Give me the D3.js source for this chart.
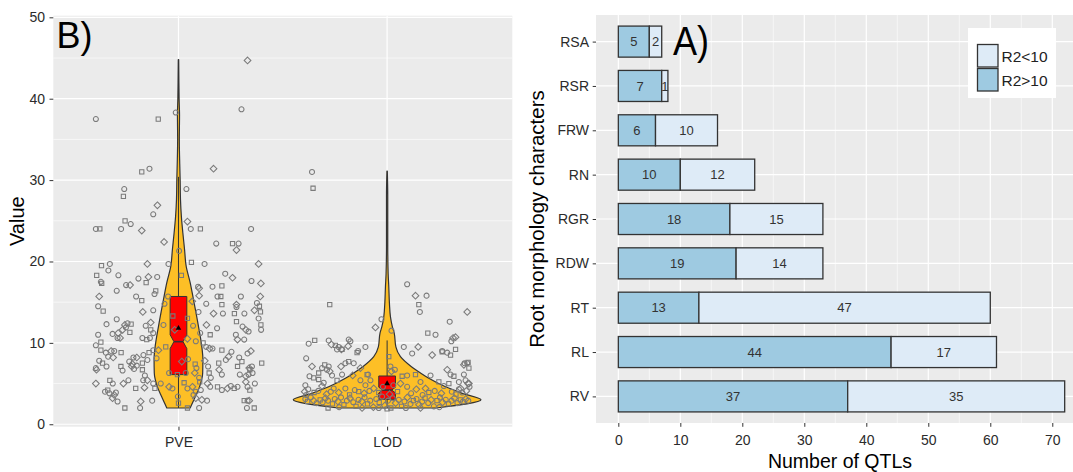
<!DOCTYPE html>
<html><head><meta charset="utf-8">
<script src="https://cdn.jsdelivr.net/npm/d3@7"></script>
<style>html,body{margin:0;padding:0;background:#fff;}svg{display:block;font-family:"Liberation Sans",Arial,sans-serif;}</style>
</head><body>
<script>
// ---------- Panel B data (violin + box + jitter) ----------
const groups = ["PVE", "LOD"];
const valueTicks = [0, 10, 20, 30, 40, 50];
const valueMinor = [5, 15, 25, 35, 45];
// violin profile: [value, half-width in category units]
const pveViolin = [[2.0,0.056],[3.4,0.081],[4.6,0.101],[6.3,0.116],[8.0,0.117],[9.5,0.112],[12,0.096],[15.3,0.072],[17.4,0.056],[19.4,0.037],[21.5,0.029],[23.5,0.021],[25.5,0.014],[27.6,0.0096],[30,0.008],[32,0.006],[35,0.004],[38,0.005],[40,0.003],[42,0.002],[44.8,0.001]];
const lodViolin = [[2.0,0.235],[3.0,0.45],[3.8,0.36],[4.6,0.28],[5.65,0.2],[6.3,0.16],[7.1,0.115],[8.3,0.064],[9.5,0.042],[11.2,0.034],[12.0,0.025],[13.2,0.016],[14.9,0.011],[16.9,0.008],[18.5,0.005],[22,0.003],[28,0.003],[31.1,0.001]];
// box stats: [whiskerLow, q1, median, q3, whiskerHigh, notch]
const pveBox = [2.0, 6.1, 10.15, 15.7, 30.4, 0.85];
const lodBox = [2.0, 3.07, 4.2, 5.93, 10.3, 0.35];
const groupMeans = [11.8, 5.0];
// jitter points: [offset in category units, value]
const pvePoints = [[-0.396,37.5],[-0.097,37.5],[-0.013,38.3],[0.331,44.7],[0.302,38.7],
[-0.176,31.0],[-0.139,31.4],[0.168,31.4],[-0.260,28.9],[-0.264,28.0],[0.038,28.9],
[-0.101,26.9],[-0.121,25.8],[-0.256,25.0],[-0.229,24.6],[0.043,24.9],
[-0.396,24.0],[-0.377,24.0],[-0.275,24.0],[-0.176,23.8],[0.059,24.0],[0.105,24.0],[0.348,24.0],
[-0.069,22.4],[0.181,22.2],[0.259,22.2],[0.288,22.2],[0.278,21.4],[0.003,21.3],
[-0.369,19.5],[-0.329,19.7],[-0.149,19.7],[-0.048,19.7],[0.062,19.9],[0.125,19.7],[0.384,19.7],
[-0.336,18.9],[-0.392,18.3],[-0.288,18.3],[-0.144,18.1],[-0.102,18.1],[0.014,18.3],[0.224,18.5],[0.259,18.0],
[-0.372,17.5],[-0.368,17.3],[-0.251,17.1],[-0.232,17.1],[-0.192,17.9],[-0.155,17.4],[0.094,16.9],[0.099,16.7],[0.163,16.9],[0.208,17.0],[0.350,17.6],[0.395,17.3],
[-0.296,16.4],[-0.109,16.4],[-0.115,16.0],[-0.380,15.7],[-0.203,15.7],[-0.176,15.2],[-0.050,15.7],[0.099,15.8],[0.187,15.7],[0.203,15.7],[0.299,15.7],[0.392,15.7],
[-0.385,14.5],[-0.361,13.9],[-0.067,14.8],[0.066,15.1],[0.133,14.8],[0.208,14.7],[0.278,14.4],[0.278,14.7],[0.376,14.9],[0.388,14.5],
[-0.296,12.9],[-0.171,13.8],[-0.121,14.0],[0.043,13.0],[0.096,13.8],[0.168,13.6],[0.213,13.6],[0.268,13.6],[0.316,13.6],[0.364,14.0],[0.384,13.0],[0.393,13.8],
[-0.345,12.3],[-0.257,12.2],[-0.244,12.4],[-0.227,12.3],[-0.157,12.1],[-0.133,12.5],[-0.072,12.2],[-0.027,13.3],[0.070,12.1],[0.134,12.2],[0.185,11.8],[0.278,12.6],[0.307,12.0],[0.323,11.6],[0.336,11.4],[0.395,12.2],[0.396,11.6],
[-0.268,11.6],[-0.252,11.9],[-0.233,11.3],[-0.316,11.1],[-0.289,11.2],[-0.385,11.0],[-0.133,11.6],[-0.121,11.2],[-0.018,11.6],[0.104,11.2],[0.152,11.0],[0.275,11.0],[0.283,10.4],[0.315,10.4],
[-0.372,10.1],[-0.292,10.6],[-0.280,10.6],[-0.173,10.6],[-0.152,10.4],[-0.137,10.6],[0.043,10.5],[0.083,10.2],[0.118,10.0],[0.133,9.5],[0.149,9.3],[0.163,9.3],[0.208,9.1],[0.254,8.9],[0.347,9.0],
[-0.396,9.7],[-0.372,9.1],[-0.348,8.8],[-0.323,9.0],[-0.308,9.0],[-0.275,8.8],[-0.216,8.2],[-0.200,8.2],[-0.168,8.5],[-0.141,8.8],[-0.121,9.1],[-0.096,9.1],[-0.105,8.1],[-0.061,9.5],
[-0.337,8.3],[-0.313,8.2],[-0.380,7.8],[-0.364,7.5],[-0.236,7.7],[-0.221,7.4],[-0.200,7.2],[-0.173,7.5],[-0.149,7.9],[0.016,7.7],[0.046,8.0],[0.080,7.4],[0.086,6.9],[0.126,7.8],[0.142,7.1],[0.193,7.5],[0.227,7.9],[0.240,8.3],[0.291,8.2],[0.304,7.7],[0.331,8.7],[0.339,6.9],[0.352,7.1],[0.399,7.5],
[-0.396,6.9],[-0.393,6.7],[-0.345,7.1],[-0.276,7.1],[-0.268,6.6],[-0.224,7.1],[-0.213,6.8],[-0.173,6.7],[-0.161,6.0],[-0.149,5.4],[-0.045,6.3],[-0.005,6.1],[0.035,6.3],[0.078,6.3],[0.099,5.7],[0.147,6.3],[0.155,5.7],[0.195,6.7],[0.208,6.1],[0.283,7.1],[0.294,6.1],[0.323,5.9],[0.336,6.1],[0.342,6.7],[0.355,6.3],
[-0.396,5.0],[-0.352,4.0],[-0.339,4.2],[-0.331,3.8],[-0.308,3.6],[-0.300,3.9],[-0.329,5.4],[-0.315,5.0],[-0.264,5.0],[-0.240,5.4],[-0.205,4.4],[-0.169,5.4],[-0.163,4.5],[-0.121,5.0],[-0.113,4.4],[-0.085,5.0],[-0.045,4.6],[-0.029,4.4],[0.027,5.1],[0.043,4.4],[0.067,4.6],[0.083,4.0],[0.102,5.2],[0.107,4.2],[0.139,5.0],[0.152,4.6],[0.187,4.6],[0.208,4.2],[0.235,4.4],[0.251,4.7],[0.267,4.4],[0.283,4.6],[0.323,5.2],[0.331,4.6],[0.342,4.2],[0.366,5.0],
[-0.316,3.2],[-0.292,2.8],[-0.257,2.0],[-0.184,2.0],[-0.181,2.8],[-0.126,2.9],[0.043,2.0],[0.099,2.0],[0.112,3.0],[0.137,2.9],[0.315,2.9],[0.331,2.9],[0.339,2.9],[0.328,2.0],[0.363,2.0],[0.072,3.6],[0.083,3.2],[-0.003,3.4],[0.0,2.6]];
const lodPoints = [[-0.360,31.0],[-0.355,29.0],
[0.096,17.2],[0.136,15.8],[0.189,15.8],[0.152,14.7],[0.157,13.8],[0.384,13.8],[0.300,12.6],[-0.275,14.7],[-0.027,12.9],[-0.056,11.9],[0.021,11.5],[0.195,11.2],[0.232,11.0],[0.316,10.6],[0.308,10.2],[0.328,9.2],[0.264,9.0],[0.328,10.7],
[-0.376,9.9],[-0.347,10.3],[-0.280,10.3],[-0.267,9.8],[-0.240,9.2],[-0.216,9.2],[-0.184,10.4],[-0.187,9.6],[-0.139,9.0],
[-0.248,9.7],[-0.232,9.5],[-0.219,9.2],[-0.176,10.2],[-0.144,8.8],[-0.104,9.5],
[0.216,8.5],[0.288,8.8],[0.304,8.5],[0.120,8.7],[0.149,9.5],[0.080,9.5],[0.264,8.9],
[-0.388,8.1],[-0.360,7.1],[-0.312,6.9],[-0.299,7.3],[-0.280,7.1],[-0.221,7.1],[-0.200,7.5],[-0.184,7.7],[-0.160,7.5],[-0.128,6.9],[-0.091,6.1],[-0.328,6.3],[-0.288,6.7],[-0.275,6.5],
[-0.372,5.9],[-0.352,5.7],[-0.392,4.8],[-0.395,4.0],[-0.388,3.6],
[-0.328,5.5],[-0.304,5.1],[-0.312,4.7],[-0.264,6.0],[-0.240,5.4],[-0.216,6.1],[-0.165,6.0],[-0.128,5.4],[-0.096,6.1],[-0.080,5.4],[-0.064,4.4],[-0.104,4.8],[-0.136,4.0],[-0.256,4.4],[-0.232,3.9],[-0.200,4.4],
[0.008,8.3],[0.016,7.1],[0.021,6.5],[0.037,6.7],[0.072,5.9],[0.096,6.0],[0.064,5.0],[0.096,4.6],[0.136,6.1],[0.160,5.2],[0.184,4.4],[0.208,6.0],[0.248,5.2],[0.272,4.7],[0.288,6.7],[0.304,6.1],[0.320,5.9],[0.344,5.2],[0.368,7.3],[0.384,7.5],[0.392,6.9],[0.368,6.1],[0.392,5.0],[0.371,7.5],[0.388,7.6],[0.376,5.4],[0.388,5.0],[0.395,4.6],[0.296,5.0],[0.344,4.3],[0.352,4.4],
[-0.378,4.3],[-0.350,3.9],[-0.330,4.1],[-0.290,3.7],[-0.270,4.0],[-0.180,3.6],[-0.155,4.2],[-0.110,3.8],[-0.085,4.1],[-0.040,3.9],[-0.020,4.6],[0.012,3.7],[0.030,4.8],[0.050,4.0],[0.115,3.8],[0.140,4.3],[0.170,3.6],[0.200,3.9],[0.228,4.1],[0.260,3.8],[0.310,4.0],[0.330,3.7],[0.360,3.9],[0.380,4.1],
[-0.392,3.1],[-0.381,2.8],[-0.366,3.3],[-0.352,2.9],[-0.338,2.6],[-0.321,3.0],[-0.309,2.7],[-0.295,3.2],[-0.283,2.9],[-0.262,2.5],[-0.251,3.1],[-0.236,2.8],[-0.221,3.3],[-0.207,2.4],[-0.193,2.9],[-0.178,3.2],[-0.162,2.7],[-0.149,2.2],[-0.137,3.0],[-0.121,2.8],[-0.108,3.3],[-0.094,2.5],[-0.081,2.9],[-0.066,2.1],[-0.052,3.1],[-0.038,2.7],[-0.024,3.4],[-0.011,2.3],[0.004,2.9],[0.018,2.0],[0.027,3.2],[0.041,2.6],[0.056,3.0],[0.069,2.2],[0.083,2.8],[0.097,3.3],[0.112,2.5],[0.126,2.9],[0.141,3.1],[0.153,2.4],[0.168,2.8],[0.182,3.2],[0.197,2.6],[0.211,3.0],[0.224,2.2],[0.239,2.9],[0.253,3.3],[0.266,2.7],[0.281,3.0],[0.294,2.5],[0.309,2.9],[0.322,3.2],[0.337,2.6],[0.351,3.0],[0.364,2.8],[0.377,3.1],[0.389,2.9],
[-0.283,2.0],[-0.230,2.1],[-0.120,2.0],[-0.040,2.0],[0.000,1.9],[0.090,2.0],[0.160,2.0],[0.250,2.1]];

// ---------- Panel A data (stacked bars) ----------
const traits = ["RSA", "RSR", "FRW", "RN", "RGR", "RDW", "RT", "RL", "RV"];
const r2High = [5, 7, 6, 10, 18, 19, 13, 44, 37];   // R2>10
const r2Low  = [2, 1, 10, 12, 15, 14, 47, 17, 35];  // R2<10
const qtlTicks = [0, 10, 20, 30, 40, 50, 60, 70];
const qtlMinor = [5, 15, 25, 35, 45, 55, 65, 75];
const legendLabels = ["R2<10", "R2>10"];

const W = 1073, H = 472;
const FONT = '"Liberation Sans", Arial, sans-serif';
const svg = d3.select("body").append("svg").attr("width", W).attr("height", H);
svg.append("rect").attr("width", W).attr("height", H).attr("fill", "#fff");

// ================= Panel B =================
const yL = d3.scaleLinear().domain([-0.3, 50.2]).range([426.7, 15.7]);
const xL = d3.scalePoint().domain(groups).range([53.3, 512.3]).padding(0.6);
const stepL = xL.step();
const gB = svg.append("g");
gB.append("rect").attr("x", 53.3).attr("y", yL(50.2)).attr("width", 459).attr("height", yL(-0.3) - yL(50.2)).attr("fill", "#EBEBEB");
gB.selectAll(".mn").data(valueMinor).join("line").attr("x1", 53.3).attr("x2", 512.3)
  .attr("y1", d => yL(d)).attr("y2", d => yL(d)).attr("stroke", "#fff").attr("stroke-width", 0.6);
gB.selectAll(".mj").data(valueTicks).join("line").attr("x1", 53.3).attr("x2", 512.3)
  .attr("y1", d => yL(d)).attr("y2", d => yL(d)).attr("stroke", "#fff").attr("stroke-width", 1.2);
gB.selectAll(".vg").data(groups).join("line").attr("x1", d => xL(d)).attr("x2", d => xL(d))
  .attr("y1", yL(50.2)).attr("y2", yL(-0.3)).attr("stroke", "#fff").attr("stroke-width", 1.2);

const violins = [pveViolin, lodViolin];
const boxes = [pveBox, lodBox];
const pts = [pvePoints, lodPoints];

groups.forEach((g, i) => {
  const cx = xL(g);
  const area = d3.area().curve(d3.curveMonotoneY)
    .y(d => yL(d[0])).x0(d => cx - d[1] * stepL).x1(d => cx + d[1] * stepL);
  gB.append("path").attr("d", area(violins[i])).attr("fill", "#FDBF26")
    .attr("stroke", "#333").attr("stroke-width", 1.2).attr("stroke-linejoin", "round");
});

groups.forEach((g, i) => {
  const cx = xL(g);
  const [wl, q1, md, q3, wh, nt] = boxes[i];
  const hw = 0.04 * stepL, nw = hw * 0.45;
  gB.append("line").attr("x1", cx).attr("x2", cx).attr("y1", yL(q3)).attr("y2", yL(wh)).attr("stroke", "#333").attr("stroke-width", 1);
  gB.append("line").attr("x1", cx).attr("x2", cx).attr("y1", yL(q1)).attr("y2", yL(wl)).attr("stroke", "#333").attr("stroke-width", 1);
  const l = cx - hw, r = cx + hw;
  const p = d3.path();
  p.moveTo(l, yL(q3)); p.lineTo(r, yL(q3)); p.lineTo(r, yL(md + nt)); p.lineTo(r - nw, yL(md));
  p.lineTo(r, yL(md - nt)); p.lineTo(r, yL(q1)); p.lineTo(l, yL(q1)); p.lineTo(l, yL(md - nt));
  p.lineTo(l + nw, yL(md)); p.lineTo(l, yL(md + nt)); p.closePath();
  gB.append("path").attr("d", p.toString()).attr("fill", "#FF0000").attr("stroke", "#333").attr("stroke-width", 1);
  gB.append("line").attr("x1", l + nw).attr("x2", r - nw).attr("y1", yL(md)).attr("y2", yL(md)).attr("stroke", "#333").attr("stroke-width", 1.6);
});

// jitter points: circles, squares and square diamonds (ggplot shapes 1, 0, 5)
const symDiamondSq = { draw(ctx, size) { const r = Math.sqrt(size) * 0.75; ctx.moveTo(0, -r); ctx.lineTo(r, 0); ctx.lineTo(0, r); ctx.lineTo(-r, 0); ctx.closePath(); } };
const sym = [d3.symbolCircle, d3.symbolSquare, d3.symbolCircle, symDiamondSq];
const symSize = [20, 18, 20, 20];
groups.forEach((g, i) => {
  const cx = xL(g);
  gB.append("g").selectAll("path").data(pts[i]).join("path")
    .attr("transform", d => `translate(${cx + d[0] * stepL},${yL(d[1])})`)
    .attr("d", (d, j) => d3.symbol().type(sym[j % 4]).size(symSize[j % 4])())
    .attr("fill", "none").attr("stroke", "#7A7A7A").attr("stroke-width", 1.05);
});
// means
gB.selectAll(".mean").data(groupMeans).join("path")
  .attr("transform", (d, i) => `translate(${xL(groups[i])},${yL(d)})`)
  .attr("d", d3.symbol().type(d3.symbolTriangle).size(14)()).attr("fill", "#000");

// axes B
const axL = gB.append("g").attr("transform", "translate(53.3,0)")
  .call(d3.axisLeft(yL).tickValues(valueTicks).tickSize(3.8).tickPadding(4.5));
const axB = gB.append("g").attr("transform", `translate(0,${yL(-0.3)})`)
  .call(d3.axisBottom(xL).tickSize(3.8).tickPadding(6.2));
[axL, axB].forEach(a => {
  a.select(".domain").remove();
  a.selectAll("line").attr("stroke", "#333");
  a.selectAll("text").attr("fill", "#2b2b2b").style("font-size", "14px").style("font-family", FONT);
});
gB.append("text").attr("transform", `translate(24,${(yL(50.2) + yL(-0.3)) / 2}) rotate(-90)`)
  .attr("text-anchor", "middle").style("font-size", "20px").style("font-family", FONT).attr("fill", "#000").text("Value");
gB.append("text").attr("x", 56.5).attr("y", 48.3).style("font-size", "36px").style("font-family", FONT).attr("fill", "#000").text("B)");

// ================= Panel A =================
const xR = d3.scaleLinear().domain([-3.6, 75.6]).range([596, 1087]);
const yR = d3.scalePoint().domain(traits).range([15, 423]).padding(0.6);
const bh = 0.7 * yR.step();
const gA = svg.append("g");
gA.append("rect").attr("x", 596).attr("y", 15).attr("width", W - 596).attr("height", 408).attr("fill", "#EBEBEB");
gA.selectAll(".mn").data(qtlMinor).join("line").attr("x1", d => xR(d)).attr("x2", d => xR(d))
  .attr("y1", 15).attr("y2", 423).attr("stroke", "#fff").attr("stroke-width", 0.6);
gA.selectAll(".mj").data(qtlTicks).join("line").attr("x1", d => xR(d)).attr("x2", d => xR(d))
  .attr("y1", 15).attr("y2", 423).attr("stroke", "#fff").attr("stroke-width", 1.2);
gA.selectAll(".hg").data(traits).join("line").attr("x1", 596).attr("x2", W)
  .attr("y1", d => yR(d)).attr("y2", d => yR(d)).attr("stroke", "#fff").attr("stroke-width", 1.2);

const HI = "#9ECAE1", LO = "#DEEBF7";
traits.forEach((t, i) => {
  const yc = yR(t), a = r2High[i], b = r2Low[i];
  gA.append("rect").attr("x", xR(0)).attr("y", yc - bh / 2).attr("width", xR(a) - xR(0)).attr("height", bh)
    .attr("fill", HI).attr("stroke", "#333").attr("stroke-width", 1.3);
  gA.append("rect").attr("x", xR(a)).attr("y", yc - bh / 2).attr("width", xR(a + b) - xR(a)).attr("height", bh)
    .attr("fill", LO).attr("stroke", "#333").attr("stroke-width", 1.3);
  [[a / 2, a], [a + b / 2, b]].forEach(([pos, lab]) => {
    gA.append("text").attr("x", xR(pos)).attr("y", yc).attr("dy", "0.36em").attr("text-anchor", "middle")
      .style("font-size", "13px").style("font-family", FONT).attr("fill", "#333").text(lab);
  });
});

const axR = gA.append("g").attr("transform", "translate(596,0)")
  .call(d3.axisLeft(yR).tickSize(3.3).tickPadding(3.7));
const axRB = gA.append("g").attr("transform", "translate(0,423)")
  .call(d3.axisBottom(xR).tickValues(qtlTicks).tickSize(3.8).tickPadding(8.2));
[axR, axRB].forEach(a => {
  a.select(".domain").remove();
  a.selectAll("line").attr("stroke", "#333");
  a.selectAll("text").attr("fill", "#2b2b2b").style("font-size", "14px").style("font-family", FONT);
});
gA.append("text").attr("transform", `translate(543.5,219) rotate(-90)`).attr("text-anchor", "middle")
  .style("font-size", "20.5px").style("font-family", FONT).attr("fill", "#000").text("Root morphology characters");
gA.append("text").attr("x", 840).attr("y", 468).attr("text-anchor", "middle")
  .style("font-size", "19.5px").style("font-family", FONT).attr("fill", "#000").text("Number of QTLs");
gA.append("text").attr("transform", "translate(673,55) scale(0.88,1)")
  .style("font-size", "41px").style("font-family", FONT).attr("fill", "#000").text("A)");

// legend
const lg = gA.append("g");
lg.append("rect").attr("x", 968).attr("y", 28).attr("width", 88).attr("height", 70).attr("fill", "#fff");
[LO, HI].forEach((c, i) => {
  lg.append("rect").attr("x", 977.5).attr("y", 44.5 + i * 24).attr("width", 20.5).attr("height", 22.5)
    .attr("fill", c).attr("stroke", "#333").attr("stroke-width", 1.3);
  lg.append("text").attr("x", 1001.5).attr("y", 56.5 + i * 24).attr("dy", "0.36em")
    .style("font-size", "15.5px").style("font-family", FONT).attr("fill", "#222").text(legendLabels[i]);
});
</script>
</body></html>
